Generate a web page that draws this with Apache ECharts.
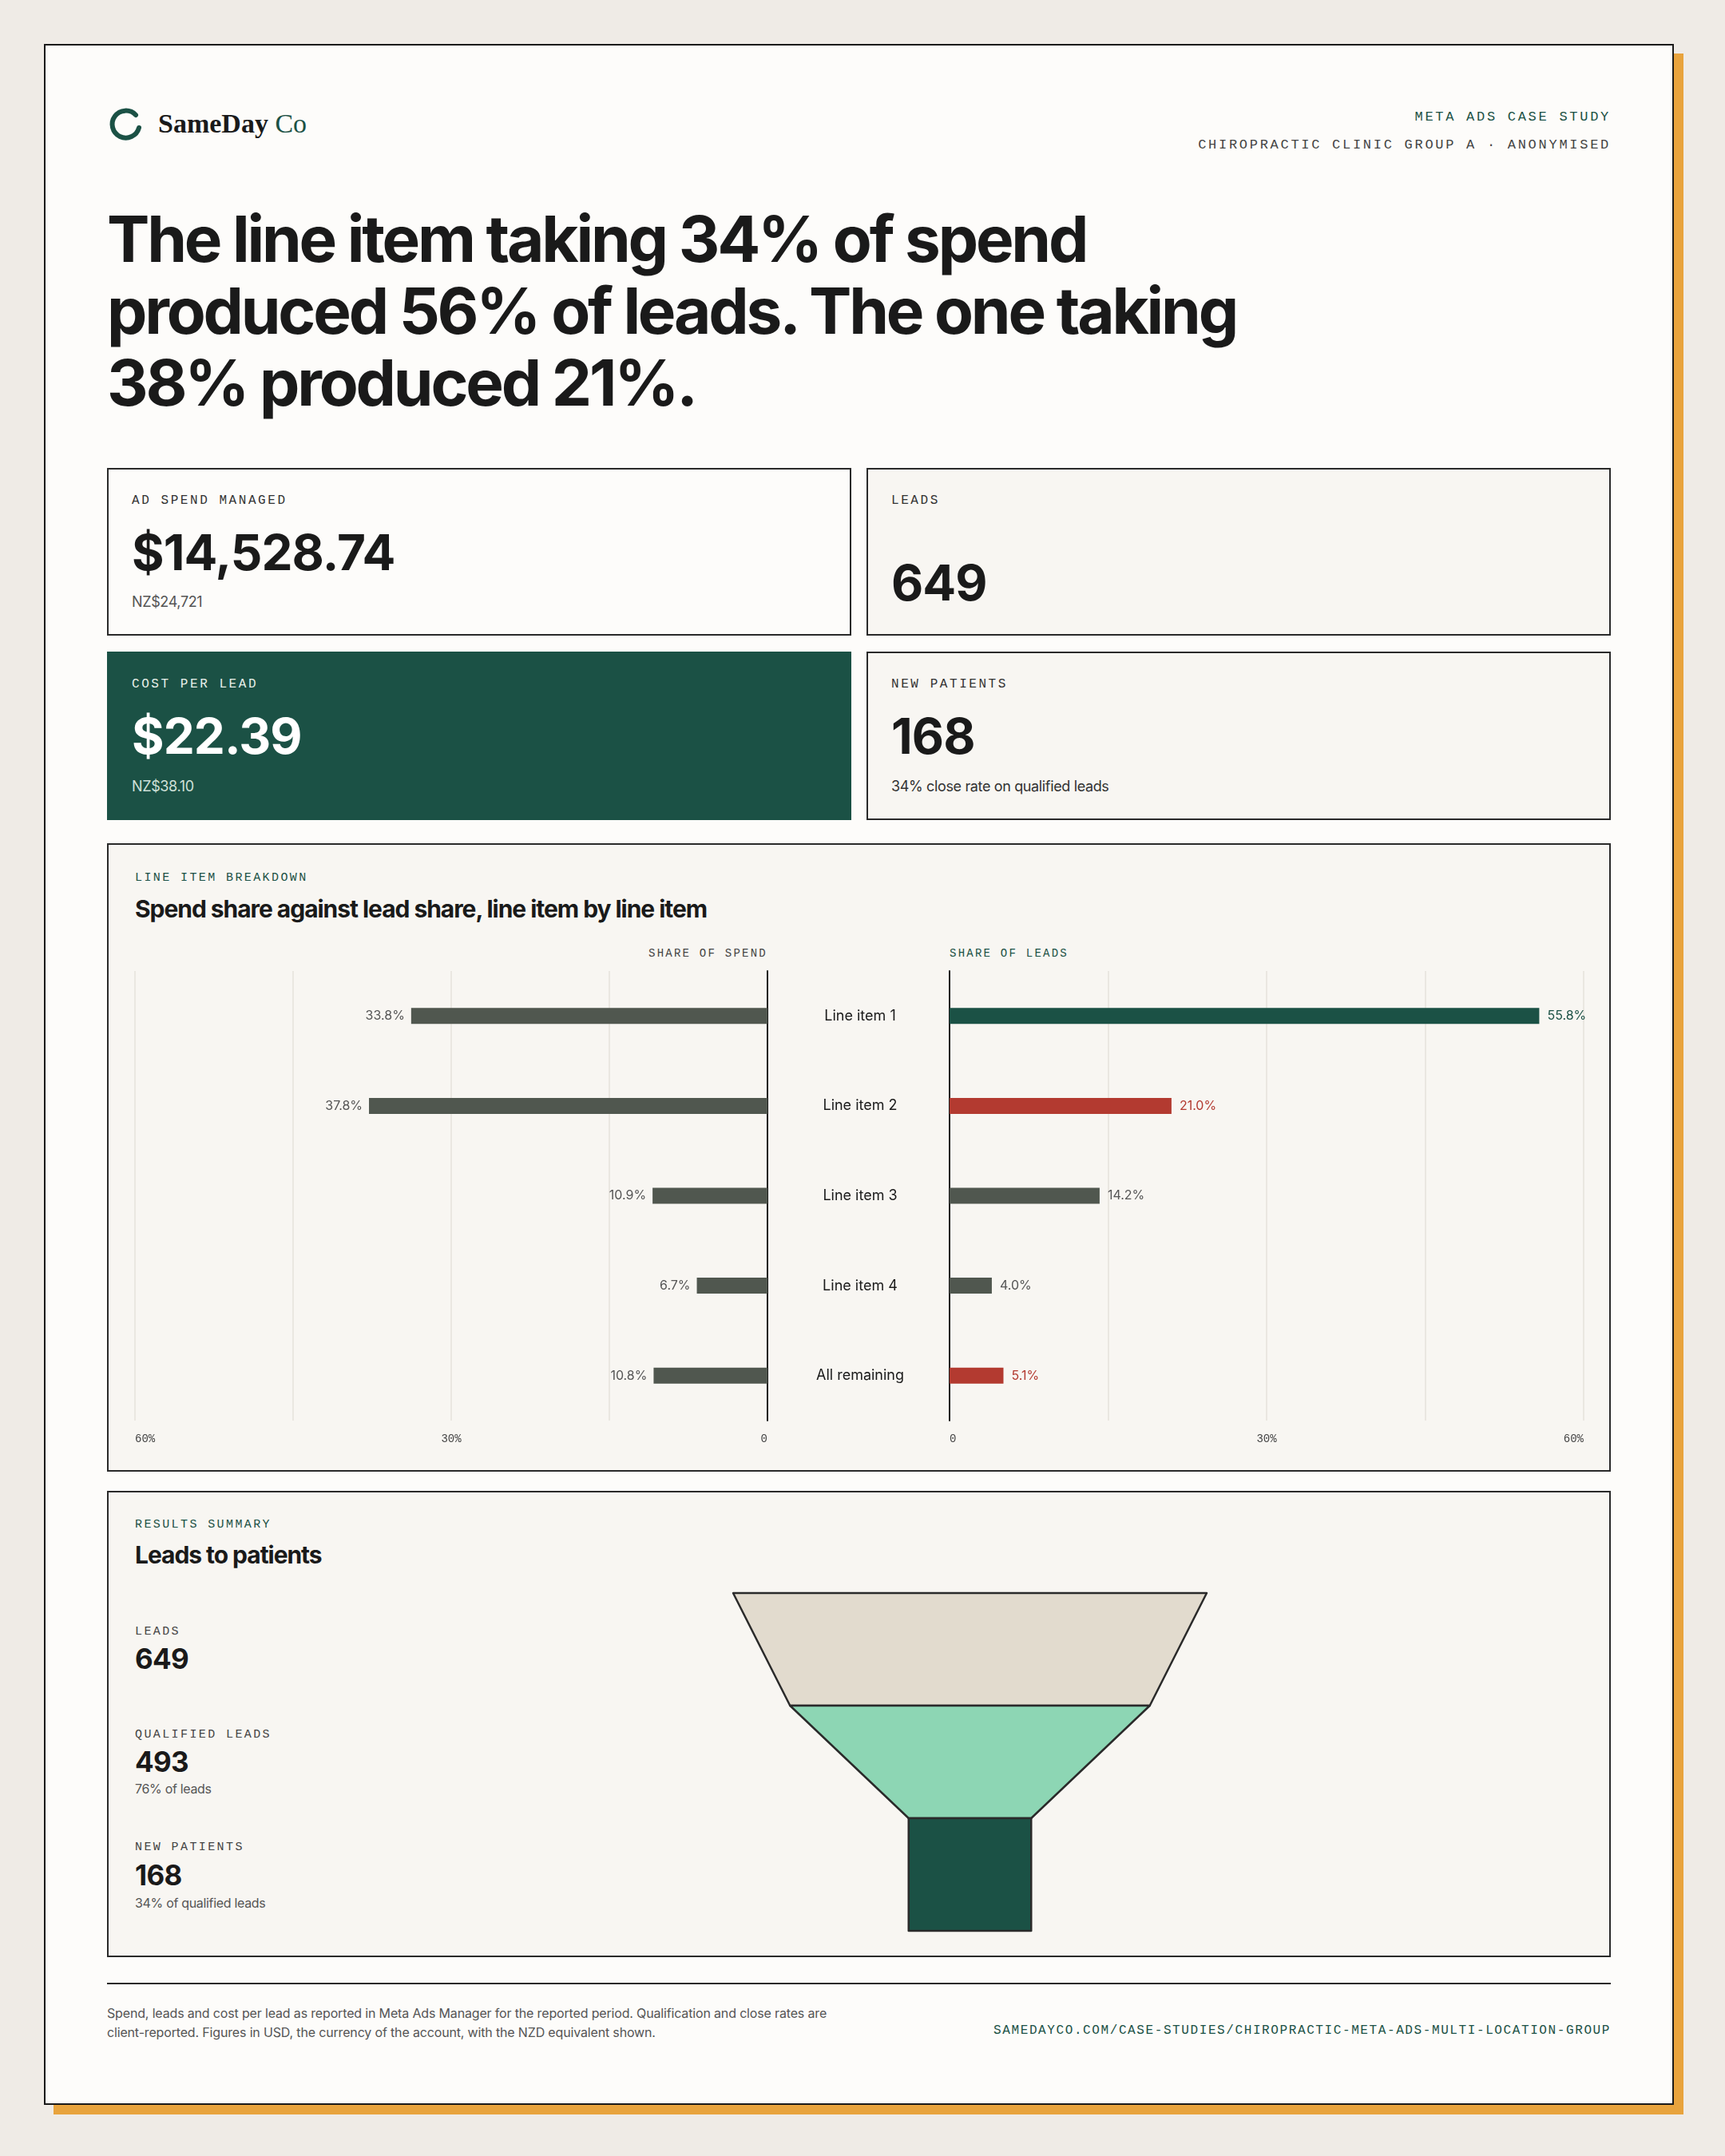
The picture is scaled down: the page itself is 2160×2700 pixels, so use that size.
<!DOCTYPE html>
<html><head><meta charset="utf-8">
<script src="https://cdn.jsdelivr.net/npm/echarts@6/dist/echarts.min.js"></script>
<style>
body{margin:0;width:2160px;height:2700px;background:#efebe6;position:relative;font-family:Inter,"Noto Sans",sans-serif;color:#1a1a1a;overflow:hidden}
.abs{position:absolute}
.mono{font-family:"Liberation Mono","DejaVu Sans Mono",monospace;letter-spacing:0.16em;text-transform:uppercase}
.card{left:55px;top:55px;width:2041px;height:2581px;background:#fdfcfa;border:2px solid #1a1a1a;box-shadow:12px 12px 0 #e8a33d;box-sizing:border-box}
.box{border:2px solid #2a2a2a;box-sizing:border-box;background:#f8f6f2}
.klab{font-size:16px;color:#333;position:absolute;left:29px;top:30px}
.kval{font-size:62px;font-weight:700;position:absolute;left:29px;letter-spacing:-0.015em}
.ksub{font-size:18px;color:#555;position:absolute;left:29px;letter-spacing:-0.02em}
</style></head><body>
<div class="abs card"></div>
<svg class="abs" style="left:134px;top:132px" width="48" height="48" viewBox="0 0 48 48"><path d="M36 12 A17 17 0 1 0 40 28" fill="none" stroke="#1b5145" stroke-width="6" stroke-linecap="round"/></svg>
<div class="abs" style="left:198px;top:136px;font-family:'Liberation Serif','DejaVu Serif',serif;font-size:34px;font-weight:700">SameDay <span style="color:#1b5145;font-weight:400">Co</span></div>
<div class="abs mono" style="right:143px;top:137px;font-size:17px;color:#1b5145">Meta Ads Case Study</div>
<div class="abs mono" style="right:143px;top:172px;font-size:17px;color:#444">Chiropractic Clinic Group A · Anonymised</div>
<div class="abs" style="left:134px;top:254px;font-size:80px;font-weight:700;line-height:90px;letter-spacing:-0.04em;width:1600px">The line item taking 34% of spend<br>produced 56% of leads. The one taking<br>38% produced 21%.</div>

<div class="abs box" style="left:134px;top:586px;width:932px;height:210px;background:#fdfcfa"><div class="klab mono">Ad Spend Managed</div><div class="kval" style="top:66px">$14,528.74</div><div class="ksub" style="top:155px">NZ$24,721</div></div>
<div class="abs box" style="left:1085px;top:586px;width:932px;height:210px;background:#f8f6f2"><div class="klab mono">Leads</div><div class="kval" style="top:104px">649</div></div>
<div class="abs box" style="left:134px;top:816px;width:932px;height:211px;background:#1b5145;border-color:#1b5145"><div class="klab mono" style="color:#e8efe9">Cost Per Lead</div><div class="kval" style="top:66px;color:#fff">$22.39</div><div class="ksub" style="top:156px;color:#cfe0d8">NZ$38.10</div></div>
<div class="abs box" style="left:1085px;top:816px;width:932px;height:211px;background:#f8f6f2"><div class="klab mono">New Patients</div><div class="kval" style="top:66px">168</div><div class="ksub" style="top:156px;color:#333">34% close rate on qualified leads</div></div>

<div class="abs box" style="left:134px;top:1056px;width:1883px;height:787px"></div>
<div class="abs mono" style="left:169px;top:1091px;font-size:15px;color:#1b5145">Line Item Breakdown</div>
<div class="abs" style="left:169px;top:1120px;font-size:30px;font-weight:700;letter-spacing:-0.035em">Spend share against lead share, line item by line item</div>
<div class="abs mono" style="right:1199px;top:1186px;font-size:14px;color:#444">Share of Spend</div>
<div class="abs mono" style="left:1189px;top:1186px;font-size:14px;color:#1b5145">Share of Leads</div>
<div id="bars" class="abs" style="left:134px;top:1170px;width:1883px;height:660px"></div>

<div class="abs box" style="left:134px;top:1867px;width:1883px;height:584px"></div>
<div class="abs mono" style="left:169px;top:1901px;font-size:15px;color:#1b5145">Results Summary</div>
<div class="abs" style="left:169px;top:1929px;font-size:30px;font-weight:700;letter-spacing:-0.035em">Leads to patients</div>
<div class="abs mono" style="left:169px;top:2035px;font-size:15px;color:#444">Leads</div>
<div class="abs" style="left:169px;top:2056px;font-size:35px;font-weight:700;letter-spacing:-0.02em">649</div>
<div class="abs mono" style="left:169px;top:2164px;font-size:15px;color:#444">Qualified Leads</div>
<div class="abs" style="left:169px;top:2185px;font-size:35px;font-weight:700;letter-spacing:-0.02em">493</div>
<div class="abs" style="left:169px;top:2230px;font-size:16px;color:#555;letter-spacing:-0.02em">76% of leads</div>
<div class="abs mono" style="left:169px;top:2305px;font-size:15px;color:#444">New Patients</div>
<div class="abs" style="left:169px;top:2327px;font-size:35px;font-weight:700;letter-spacing:-0.02em">168</div>
<div class="abs" style="left:169px;top:2373px;font-size:16px;color:#555;letter-spacing:-0.02em">34% of qualified leads</div>
<div id="funnel" class="abs" style="left:900px;top:1985px;width:630px;height:443px"></div>

<div class="abs" style="left:134px;top:2483px;width:1883px;height:2px;background:#2a2a2a"></div>
<div class="abs" style="left:134px;top:2509px;font-size:16px;line-height:24px;color:#555;letter-spacing:-0.01em">Spend, leads and cost per lead as reported in Meta Ads Manager for the reported period. Qualification and close rates are<br>client-reported. Figures in USD, the currency of the account, with the NZD equivalent shown.</div>
<div class="abs mono" style="right:143px;top:2534px;font-size:16px;color:#1b5145;letter-spacing:0.1em">samedayco.com/case-studies/chiropractic-meta-ads-multi-location-group</div>

<script>
const categories = ['Line item 1','Line item 2','Line item 3','Line item 4','All remaining'];
const spendShare = [33.8, 37.8, 10.9, 6.7, 10.8];
const leadShare = [55.8, 21.0, 14.2, 4.0, 5.1];
const leadUnderperform = [false, true, false, false, true];
const funnelStages = ['Leads','Qualified leads','New patients'];
const funnelValues = [649, 493, 168];

const GRAY='#50574f', GREEN='#1b5145', RED='#b33a30';
const tickFmt = v => v===0 ? '0' : (v===30||v===60 ? v+'%' : '');
const axisCommon = {
  type:'value', min:0, max:60, interval:15,
  axisLine:{show:false}, axisTick:{show:false},
  splitLine:{lineStyle:{color:'#e6e2db',width:1.5}},
  axisLabel:{formatter:tickFmt, fontFamily:'Liberation Mono', fontSize:14, color:'#444', margin:16, alignMinLabel:'left', alignMaxLabel:'right'}
};
const bars = echarts.init(document.getElementById('bars'));
bars.setOption({
  animation:false,
  grid:[{left:35,width:792,top:46,height:563},{left:1055,width:794,top:46,height:563}],
  xAxis:[Object.assign({gridIndex:0, inverse:true}, axisCommon, {axisLabel:Object.assign({}, axisCommon.axisLabel,{alignMinLabel:'right',alignMaxLabel:'left'})}),
         Object.assign({gridIndex:1}, axisCommon)],
  yAxis:[{type:'category',gridIndex:0,data:categories,inverse:true,position:'right',axisLine:{lineStyle:{color:'#1a1a1a',width:2}},axisTick:{show:false},axisLabel:{show:false}},
         {type:'category',gridIndex:1,data:categories,inverse:true,position:'left',axisLine:{lineStyle:{color:'#1a1a1a',width:2}},axisTick:{show:false},
          axisLabel:{align:'center',margin:112,fontSize:18,color:'#1a1a1a',fontFamily:'Inter'}}],
  series:[
    {type:'bar',xAxisIndex:0,yAxisIndex:0,data:spendShare,barWidth:20,itemStyle:{color:GRAY},
     label:{show:true,position:'left',distance:8,formatter:p=>p.value.toFixed(1)+'%',fontSize:16,color:'#555',fontFamily:'Inter'}},
    {type:'bar',xAxisIndex:1,yAxisIndex:1,barWidth:20,
     data:leadShare.map((v,i)=>{const c=i===0?GREEN:(leadUnderperform[i]?RED:GRAY);
       return {value:v,itemStyle:{color:c},label:{color:c===GRAY?'#555':c}};}),
     label:{show:true,position:'right',distance:10,formatter:p=>p.value.toFixed(1)+'%',fontSize:16,fontFamily:'Inter'}}
  ]
});
// A transparent trailing item (same value as the last stage) makes the last visible stage a rectangle.
const funnelData = funnelStages.map((n,i)=>({name:n,value:funnelValues[i],itemStyle:{color:['#e2dbce','#8dd6b4','#1b5145'][i]}}));
funnelData.push({name:'_tail',value:funnelValues[funnelValues.length-1],itemStyle:{color:'rgba(0,0,0,0)',borderWidth:0}});
const funnel = echarts.init(document.getElementById('funnel'));
funnel.setOption({
  animation:false,
  series:[{type:'funnel',left:18,top:10,width:593,height:564,sort:'none',min:0,max:649,minSize:'0%',maxSize:'100%',gap:0,
    label:{show:false},labelLine:{show:false},emphasis:{disabled:true},
    itemStyle:{borderColor:'#2a2a2a',borderWidth:2.5},
    data:funnelData}]
});
</script>
</body></html>
